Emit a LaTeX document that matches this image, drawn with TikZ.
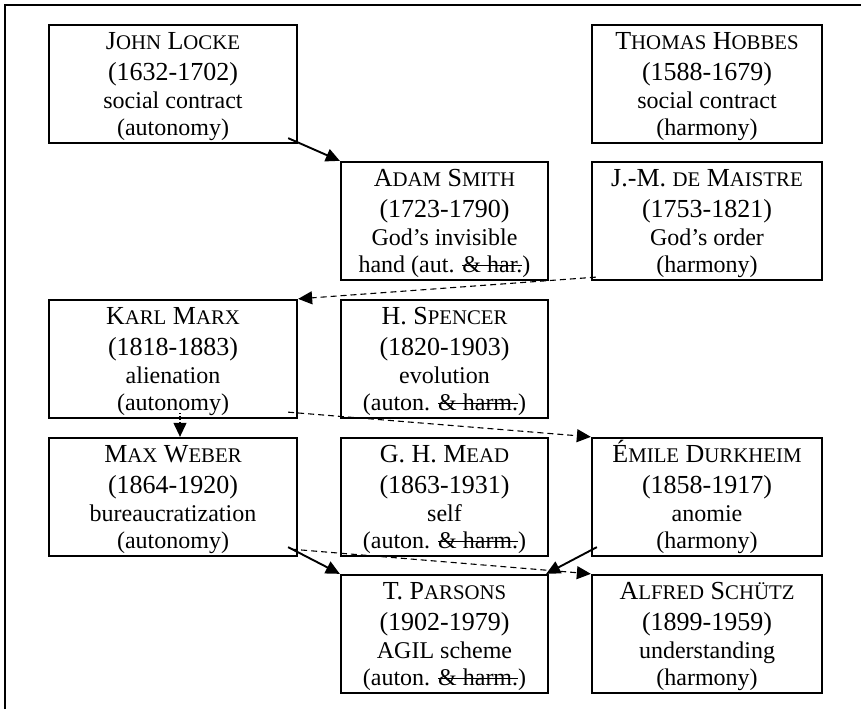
\documentclass[tikz,border=0pt]{standalone}
\usepackage{fontspec}
\setmainfont{Liberation Serif}
\usetikzlibrary{arrows.meta}
% hand-made small capitals (the font has no smcp feature)
\newcommand\smc[1]{{\fontsize{20.8}{20.8}\selectfont #1}}
% struck-through text
\newlength\strkw
\newcommand\struck[1]{\settowidth\strkw{#1}\rlap{\rule[0.27em]{\strkw}{1.7pt}}#1}

\tikzset{
  pbox/.style={draw, line width=2.3pt, minimum height=118pt, inner sep=0pt},
  linetext/.style={anchor=base, inner sep=0pt},
  nametext/.style={linetext, font=\fontsize{26}{31}\selectfont},
  datetext/.style={linetext, font=\fontsize{26}{31}\selectfont},
  desctext/.style={linetext, font=\fontsize{24}{28}\selectfont},
  frame/.style={line width=2.3pt},
  tip/.style={-{Triangle[length=14pt,width=13pt]}},
  conn/.style={tip, line width=1.9pt},
  dconn/.style={tip, line width=1.1pt, dash pattern=on 6pt off 4pt},
  pconn/.style={tip, line width=1.1pt, dash pattern=on 1.2pt off 1.8pt},
}

% id, centre x, top y, width, name, dates, idea, stance
\newcommand\person[8]{%
  \node[pbox, minimum width=#4pt] (#1) at (#2,#3+59) {};
  \node[nametext] (#1-n) at ([yshift=-26pt]#1.north) {#5};
  \node[datetext] (#1-d) at ([yshift=-57pt]#1.north) {#6};
  \node[desctext] (#1-c) at ([yshift=-85pt]#1.north) {#7};
  \node[desctext] (#1-r) at ([yshift=-112pt]#1.north) {#8};
}

\begin{document}
\begin{tikzpicture}[x=1pt, y=-1pt]
\useasboundingbox (0,0) rectangle (861,709);

% outer frame
\draw[frame] (5,709) |- (861,5);

% column A: x 49..297, column B: x 341..548, column C: x 592..822
\person{locke}{173}{25}{248}{J\smc{OHN} L\smc{OCKE}}{(1632-1702)}{social contract}{(autonomy)}
\person{hobbes}{707}{25}{230}{T\smc{HOMAS} H\smc{OBBES}}{(1588-1679)}{social contract}{(harmony)}
\person{smith}{444.5}{162}{207}{A\smc{DAM} S\smc{MITH}}{(1723-1790)}{God’s invisible}{hand (aut. \struck{\& har.})}
\person{maistre}{707}{162}{230}{J.-M. \smc{DE} M\smc{AISTRE}}{(1753-1821)}{God’s order}{(harmony)}
\person{marx}{173}{300}{248}{K\smc{ARL} M\smc{ARX}}{(1818-1883)}{alienation}{(autonomy)}
\person{spencer}{444.5}{300}{207}{H. S\smc{PENCER}}{(1820-1903)}{evolution}{(auton. \struck{\& harm.})}
\person{weber}{173}{438}{248}{M\smc{AX} W\smc{EBER}}{(1864-1920)}{bureaucratization}{(autonomy)}
\person{mead}{444.5}{438}{207}{G. H. M\smc{EAD}}{(1863-1931)}{self}{(auton. \struck{\& harm.})}
\person{durk}{707}{438}{230}{É\smc{MILE} D\smc{URKHEIM}}{(1858-1917)}{anomie}{(harmony)}
\person{parsons}{444.5}{575}{207}{T. P\smc{ARSONS}}{(1902-1979)}{AGIL scheme}{(auton. \struck{\& harm.})}
\person{schutz}{707}{575}{230}{A\smc{LFRED} S\smc{CHÜTZ}}{(1899-1959)}{understanding}{(harmony)}

% influences
\draw[conn] ([xshift=-10pt,yshift=6pt]locke.south east) -- (smith.north west);
\draw[dconn] ([xshift=5pt,yshift=4pt]maistre.south west) -- (marx.north east);
\draw[dconn] ([xshift=-10pt,yshift=7pt]marx.south east) -- (durk.north west);
\draw[pconn] ([xshift=7pt,yshift=6pt]marx.south) -- ([xshift=7pt]weber.north);
\draw[conn] ([xshift=-10pt,yshift=10pt]weber.south east) -- (parsons.north west);
\draw[conn] ([xshift=6pt,yshift=10pt]durk.south west) -- ([xshift=-3pt]parsons.north east);
\draw[dconn] ([xshift=-7pt,yshift=8pt]weber.south east) -- (schutz.north west);
\end{tikzpicture}
\end{document}
